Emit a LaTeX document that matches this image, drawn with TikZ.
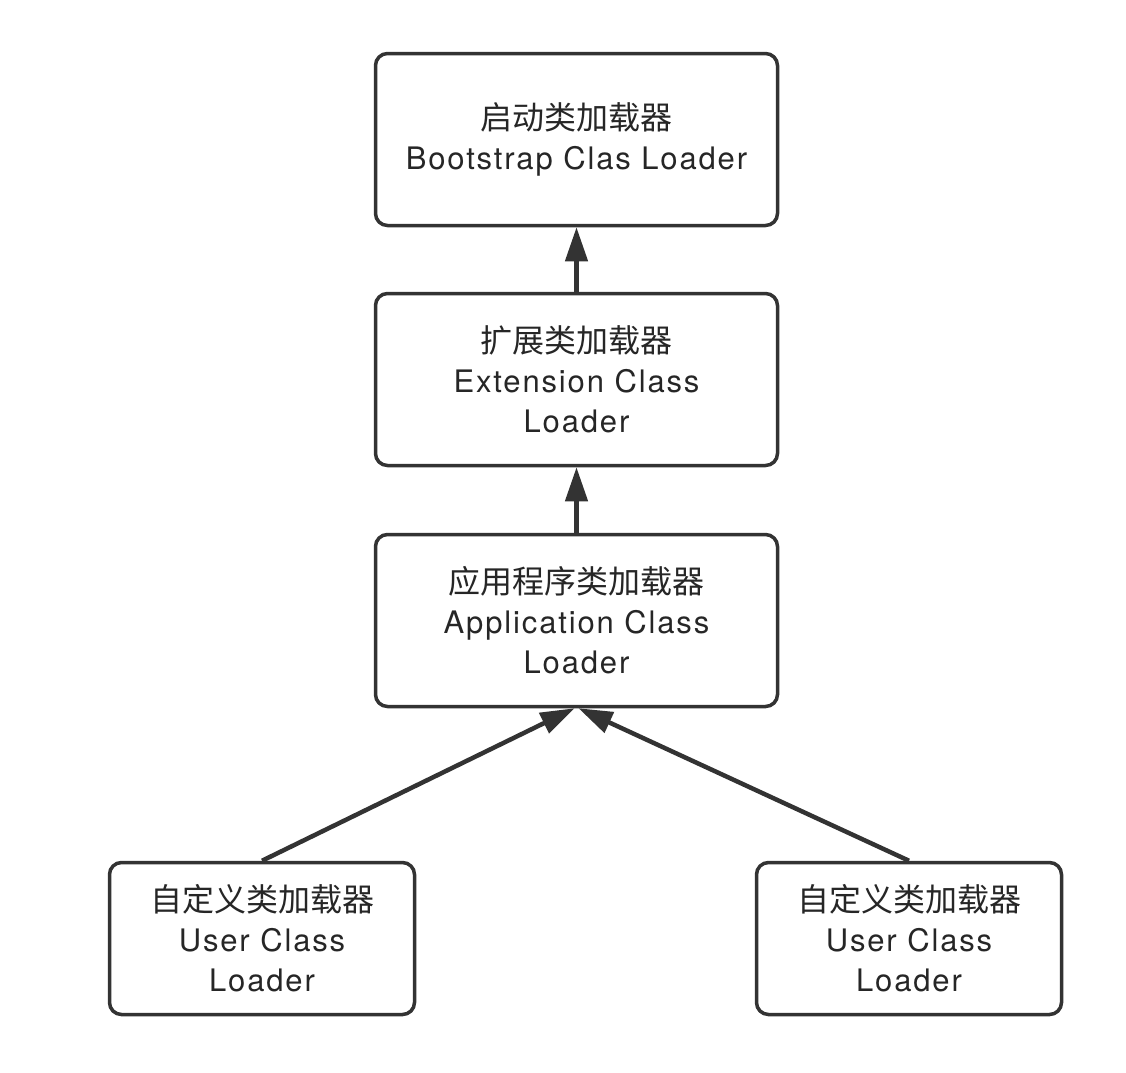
\documentclass[tikz,border=0pt]{standalone}
\usepackage{fontspec}
\setmainfont{TeX Gyre Heros}[LetterSpace=6]
\newfontfamily\cjk{Noto Sans CJK SC}
\usetikzlibrary{arrows.meta}

\newcommand{\zh}[1]{{\cjk\fontsize{32}{40}\selectfont #1}}

\tikzset{
    loaderbox/.style={draw=black!80, line width=3.5pt, rounded corners=12pt,
        align=center, inner sep=0pt, font=\fontsize{31}{40}\selectfont, text=black!85},
    bigbox/.style={loaderbox, minimum width=402pt, minimum height=172pt},
    smallbox/.style={loaderbox, minimum width=305pt, minimum height=152pt},
    parentarrow/.style={draw=black!80, line width=4.5pt,
        -{Triangle[length=34pt, width=22pt]}}
}

\begin{document}
\begin{tikzpicture}[x=1pt,y=-1pt]
    \useasboundingbox (0,0) rectangle (1126,1072);

    \node[bigbox] (boot) at (576.5,139.5) {\zh{启动类加载器}\\Bootstrap Clas Loader};
    \node[bigbox] (ext) at (576.5,379.5) {\zh{扩展类加载器}\\Extension Class\\Loader};
    \node[bigbox] (app) at (576.5,620.5) {\zh{应用程序类加载器}\\Application Class\\Loader};
    \node[smallbox] (userA) at (262,938.5) {\zh{自定义类加载器}\\User Class\\Loader};
    \node[smallbox] (userB) at (909,938.5) {\zh{自定义类加载器}\\User Class\\Loader};

    \draw[parentarrow] (ext.north) -- (boot.south);
    \draw[parentarrow] (app.north) -- (ext.south);
    \draw[parentarrow] (userA.north) -- ([xshift=-2pt]app.south);
    \draw[parentarrow] (userB.north) -- ([xshift=2pt]app.south);
\end{tikzpicture}
\end{document}
